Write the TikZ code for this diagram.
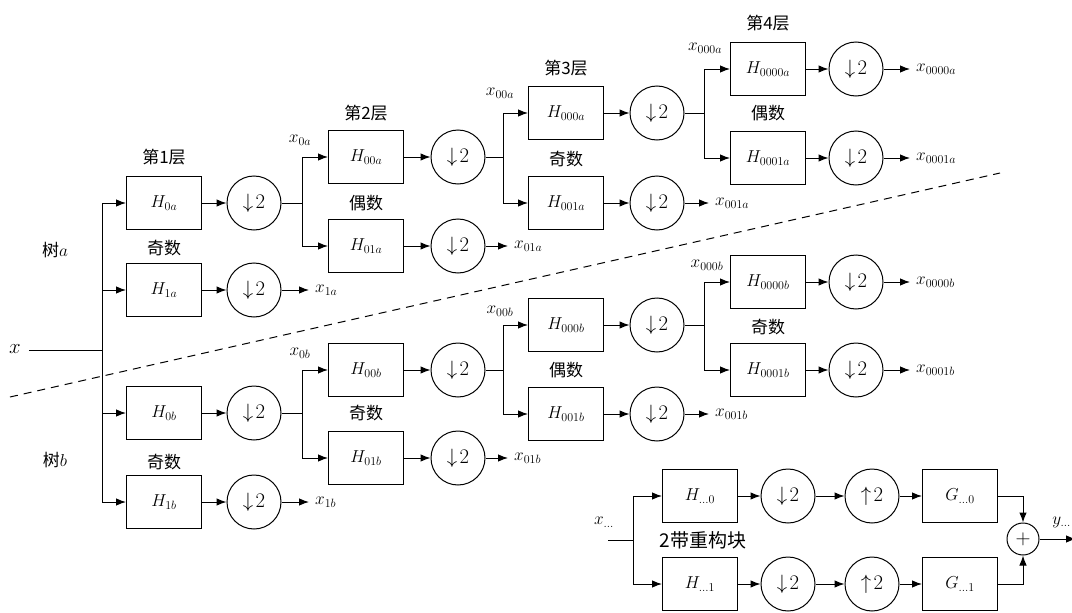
\documentclass[tikz,border=0pt]{standalone}
\usepackage{fontspec}
\newfontfamily\cjk{Noto Sans CJK SC}
\usetikzlibrary{arrows.meta}
\begin{document}
\begin{tikzpicture}[x=1pt,y=-1pt,
  box/.style={draw, line width=1pt, minimum width=75pt, minimum height=53pt, inner sep=0pt, font=\fontsize{18}{20}\selectfont},
  dn/.style={draw, circle, line width=1pt, minimum size=54pt, inner sep=0pt, font=\fontsize{22}{24}\selectfont},
  plusc/.style={draw, circle, line width=1pt, minimum size=32pt, inner sep=0pt, font=\fontsize{20}{22}\selectfont},
  arr/.style={line width=1pt, -{Latex[length=10pt,width=7.5pt]}},
  ln/.style={line width=1pt},
  lab/.style={font=\fontsize{17}{20}\selectfont, inner sep=0pt},
  outlab/.style={lab, anchor=west, inner xsep=6pt, inner ysep=0pt},
  cn/.style={font=\cjk\fontsize{17}{20}\selectfont, inner sep=0pt},
  cnb/.style={font=\cjk\fontsize{19}{22}\selectfont, inner sep=0pt}]
\useasboundingbox (0,0) rectangle (1072,613);

% separator
\draw[line width=1pt, dash pattern=on 8pt off 6pt] (10,397) -- (1000,173);

% input
\node[lab, font=\fontsize{20}{22}\selectfont] (x) at (15,349) {$x$};
\coordinate (bus) at (102,350);
\draw[ln] ([xshift=8pt]x.east |- bus) -- (bus);
\node[cn] (ta) at (55,250) {树$a$};
\node[cn] (tb) at (55,460) {树$b$};

% level 1
\node[box] (H0a) at (164,203) {$H_{0a}$};
\node[dn]  (D0a) at (254,203) {$\downarrow\!2$};
\node[box] (H1a) at (164,290) {$H_{1a}$};
\node[dn]  (D1a) at (254,290) {$\downarrow\!2$};
\node[box] (H0b) at (164,413) {$H_{0b}$};
\node[dn]  (D0b) at (254,413) {$\downarrow\!2$};
\node[box] (H1b) at (164,502) {$H_{1b}$};
\node[dn]  (D1b) at (254,502) {$\downarrow\!2$};
\node[cn] (L1) at (164,157) {第1层};
\node[cn] (o1a) at (164,248) {奇数};
\node[cn] (o1b) at (164,462) {奇数};
\foreach \n in {H0a,H1a,H0b,H1b} \draw[arr] (bus) |- (\n.west);
\foreach \n in {0a,1a,0b,1b} \draw[arr] (H\n) -- (D\n);
\node[outlab] (X1a) at (309,290) {$x_{1a}$};
\node[outlab] (X1b) at (309,502) {$x_{1b}$};
\draw[arr] (D1a) -- (X1a.west);
\draw[arr] (D1b) -- (X1b.west);

% level 2
\coordinate (S0a) at (302,203);
\coordinate (S0b) at (302,413);
\node[lab] (x0a) at (300,140) {$x_{0a}$};
\node[lab] (x0b) at (300,353) {$x_{0b}$};
\node[box] (H00a) at (366,157) {$H_{00a}$};
\node[dn]  (D00a) at (458,157) {$\downarrow\!2$};
\node[box] (H01a) at (366,246) {$H_{01a}$};
\node[dn]  (D01a) at (458,246) {$\downarrow\!2$};
\node[box] (H00b) at (366,370) {$H_{00b}$};
\node[dn]  (D00b) at (458,370) {$\downarrow\!2$};
\node[box] (H01b) at (366,458) {$H_{01b}$};
\node[dn]  (D01b) at (458,458) {$\downarrow\!2$};
\node[cn] (L2) at (366,113) {第2层};
\node[cn] (e2a) at (366,203) {偶数};
\node[cn] (o2b) at (366,413) {奇数};
\draw[ln] (D0a) -- (S0a);
\draw[ln] (D0b) -- (S0b);
\draw[arr] (S0a) |- (H00a.west);
\draw[arr] (S0a) |- (H01a.west);
\draw[arr] (S0b) |- (H00b.west);
\draw[arr] (S0b) |- (H01b.west);
\foreach \n in {00a,01a,00b,01b} \draw[arr] (H\n) -- (D\n);
\node[outlab] (X01a) at (508,246) {$x_{01a}$};
\node[outlab] (X01b) at (508,458) {$x_{01b}$};
\draw[arr] (D01a) -- (X01a.west);
\draw[arr] (D01b) -- (X01b.west);

% level 3
\coordinate (S00a) at (503,157);
\coordinate (S00b) at (503,370);
\node[lab] (x00a) at (500,93) {$x_{00a}$};
\node[lab] (x00b) at (500,311) {$x_{00b}$};
\node[box] (H000a) at (566,113) {$H_{000a}$};
\node[dn]  (D000a) at (657,113) {$\downarrow\!2$};
\node[box] (H001a) at (566,203) {$H_{001a}$};
\node[dn]  (D001a) at (657,203) {$\downarrow\!2$};
\node[box] (H000b) at (566,325) {$H_{000b}$};
\node[dn]  (D000b) at (657,325) {$\downarrow\!2$};
\node[box] (H001b) at (566,414) {$H_{001b}$};
\node[dn]  (D001b) at (657,414) {$\downarrow\!2$};
\node[cn] (L3) at (566,68) {第3层};
\node[cn] (o3a) at (566,159) {奇数};
\node[cn] (e3b) at (566,370) {偶数};
\draw[ln] (D00a) -- (S00a);
\draw[ln] (D00b) -- (S00b);
\draw[arr] (S00a) |- (H000a.west);
\draw[arr] (S00a) |- (H001a.west);
\draw[arr] (S00b) |- (H000b.west);
\draw[arr] (S00b) |- (H001b.west);
\foreach \n in {000a,001a,000b,001b} \draw[arr] (H\n) -- (D\n);
\node[outlab] (X001a) at (709,203) {$x_{001a}$};
\node[outlab] (X001b) at (709,414) {$x_{001b}$};
\draw[arr] (D001a) -- (X001a.west);
\draw[arr] (D001b) -- (X001b.west);

% level 4
\coordinate (S000a) at (704,113);
\coordinate (S000b) at (704,325);
\node[lab] (x000a) at (705,48) {$x_{000a}$};
\node[lab] (x000b) at (707,265) {$x_{000b}$};
\node[box] (H0000a) at (768,69) {$H_{0000a}$};
\node[dn]  (D0000a) at (856,69) {$\downarrow\!2$};
\node[box] (H0001a) at (768,158) {$H_{0001a}$};
\node[dn]  (D0001a) at (856,158) {$\downarrow\!2$};
\node[box] (H0000b) at (768,282) {$H_{0000b}$};
\node[dn]  (D0000b) at (856,282) {$\downarrow\!2$};
\node[box] (H0001b) at (768,370) {$H_{0001b}$};
\node[dn]  (D0001b) at (856,370) {$\downarrow\!2$};
\node[cn] (L4) at (768,23) {第4层};
\node[cn] (e4a) at (768,113) {偶数};
\node[cn] (o4b) at (768,327) {奇数};
\draw[ln] (D000a) -- (S000a);
\draw[ln] (D000b) -- (S000b);
\draw[arr] (S000a) |- (H0000a.west);
\draw[arr] (S000a) |- (H0001a.west);
\draw[arr] (S000b) |- (H0000b.west);
\draw[arr] (S000b) |- (H0001b.west);
\foreach \n in {0000a,0001a,0000b,0001b} \draw[arr] (H\n) -- (D\n);
\node[outlab] (X0000a) at (910,69) {$x_{0000a}$};
\node[outlab] (X0001a) at (910,158) {$x_{0001a}$};
\node[outlab] (X0000b) at (910,282) {$x_{0000b}$};
\node[outlab] (X0001b) at (910,370) {$x_{0001b}$};
\foreach \n in {0000a,0001a,0000b,0001b} \draw[arr] (D\n) -- (X\n.west);

% 2-band reconstruction block
\node[lab] (xin) at (604,522) {$x_{\dots}$};
\coordinate (xs) at (608,540);
\coordinate (bus2) at (633,540);
\draw[ln] (xs) -- (bus2);
\node[box] (HR0) at (700,496) {$H_{\dots0}$};
\node[dn]  (DR0) at (788,496) {$\downarrow\!2$};
\node[dn]  (UR0) at (872,496) {$\uparrow\!2$};
\node[box] (GR0) at (960,496) {$G_{\dots0}$};
\node[box] (HR1) at (700,584) {$H_{\dots1}$};
\node[dn]  (DR1) at (788,584) {$\downarrow\!2$};
\node[dn]  (UR1) at (872,584) {$\uparrow\!2$};
\node[box] (GR1) at (960,584) {$G_{\dots1}$};
\node[plusc] (plus) at (1023,539) {$+$};
\node[cnb] (blk) at (703,540) {2带重构块};
\draw[arr] (bus2) |- (HR0.west);
\draw[arr] (bus2) |- (HR1.west);
\foreach \i in {0,1} {
  \draw[arr] (HR\i) -- (DR\i);
  \draw[arr] (DR\i) -- (UR\i);
  \draw[arr] (UR\i) -- (GR\i);
}
\draw[arr] (GR0.east) -| (plus.north);
\draw[arr] (GR1.east) -| (plus.south);
\coordinate (yend) at (1076,539);
\draw[arr] (plus.east) -- (yend);
\node[lab, anchor=east] (yout) at (1071,522) {$y_{\dots}$};
\end{tikzpicture}
\end{document}
